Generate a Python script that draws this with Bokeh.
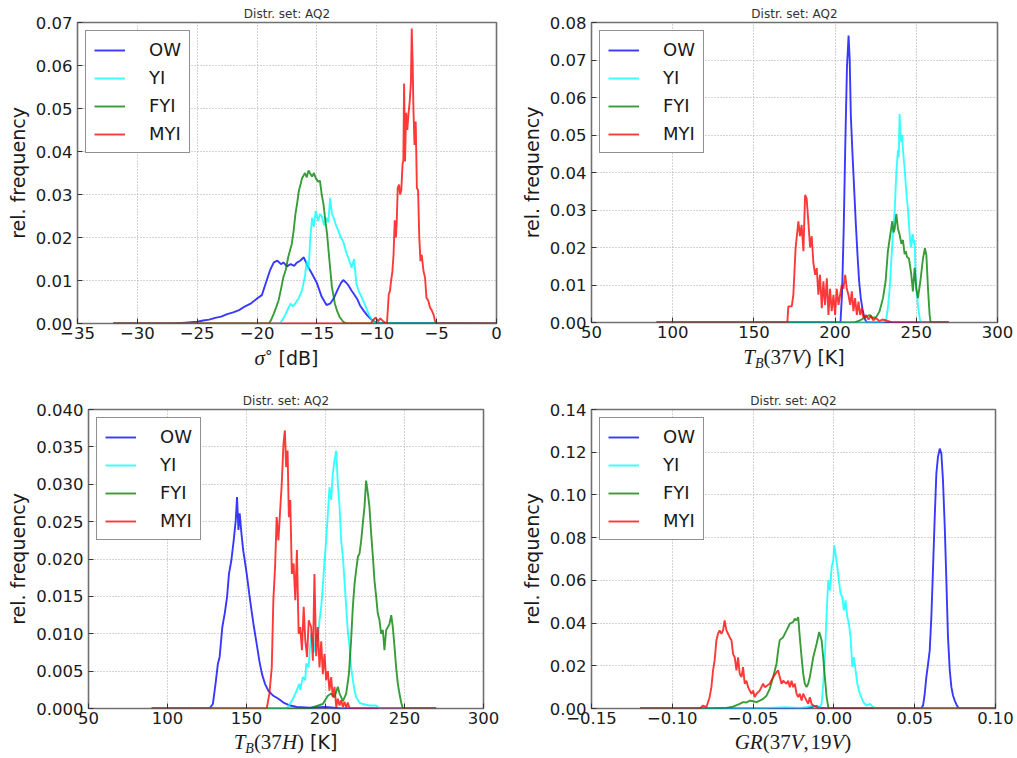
from bokeh.plotting import figure
from bokeh.models import Range1d, FixedTicker, CustomJSTickFormatter, Div
from bokeh.layouts import column, row
from bokeh.embed import file_html
from bokeh.resources import INLINE

CLASSES = ["OW", "YI", "FYI", "MYI"]
COLORS = ["#0000ff", "#00ffff", "#008000", "#ff0000"]
TITLE = "Distr. set: AQ2"
YLABEL = "rel. frequency"

# ---------------- panel 1: sigma0 [dB] ----------------
S0_OW = [(-32, 0), (-27, 0), (-26, 0.0002), (-25, 0.0004), (-24.5, 0.0007), (-24, 0.0009), (-23.5, 0.0013),
         (-23, 0.0016), (-22.5, 0.0022), (-22, 0.0026), (-21.5, 0.0031), (-21, 0.0040), (-20.5, 0.0047),
         (-20, 0.0058), (-19.6, 0.0066), (-19.2, 0.0100), (-18.9, 0.0125), (-18.6, 0.0142), (-18.3, 0.0146),
         (-18.0, 0.0138), (-17.8, 0.0142), (-17.5, 0.0133), (-17.2, 0.0138), (-16.9, 0.0134), (-16.7, 0.0141),
         (-16.4, 0.0146), (-16.1, 0.0154), (-15.8, 0.0135), (-15.4, 0.0115), (-15.0, 0.0094), (-14.6, 0.0062),
         (-14.2, 0.0043), (-13.9, 0.0046), (-13.6, 0.0058), (-13.3, 0.0077), (-13.0, 0.0094), (-12.8, 0.0101),
         (-12.6, 0.0096), (-12.4, 0.0090), (-12.1, 0.0076), (-11.9, 0.0068), (-11.6, 0.0055), (-11.4, 0.0042),
         (-11.1, 0.0030), (-10.8, 0.0019), (-10.4, 0.0008), (-10.0, 0.0001), (0, 0)]
S0_YI = [(-32, 0), (-18.1, 0), (-17.8, 0.0012), (-17.6, 0.0023), (-17.4, 0.0035), (-17.2, 0.0046), (-17.0, 0.0040),
         (-16.8, 0.0047), (-16.5, 0.0060), (-16.25, 0.0077), (-16.0, 0.0110), (-15.85, 0.0146), (-15.7, 0.0125),
         (-15.55, 0.0200), (-15.4, 0.0246), (-15.25, 0.0225), (-15.1, 0.0262), (-14.9, 0.0238), (-14.75, 0.0255),
         (-14.6, 0.0250), (-14.4, 0.0228), (-14.2, 0.0246), (-14.05, 0.0235), (-13.9, 0.0292), (-13.75, 0.0255),
         (-13.6, 0.0246), (-13.4, 0.0228), (-13.2, 0.0215), (-13.0, 0.0200), (-12.8, 0.0190), (-12.6, 0.0170),
         (-12.4, 0.0154), (-12.1, 0.0130), (-11.9, 0.0150), (-11.7, 0.0092), (-11.5, 0.0075), (-11.25, 0.0060),
         (-11.0, 0.0045), (-10.8, 0.0030), (-10.6, 0.0018), (-10.4, 0.0008), (-10.1, 0), (0, 0)]
S0_FYI = [(-32, 0), (-19.0, 0), (-18.8, 0.0010), (-18.6, 0.0023), (-18.4, 0.0038), (-18.2, 0.0054), (-18.0, 0.0080),
          (-17.8, 0.0108), (-17.6, 0.0125), (-17.4, 0.0154), (-17.25, 0.0170), (-17.1, 0.0185), (-16.95, 0.0215),
          (-16.8, 0.0254), (-16.65, 0.0280), (-16.5, 0.0310), (-16.35, 0.0325), (-16.25, 0.0338), (-16.1, 0.0345),
          (-16.0, 0.0350), (-15.85, 0.0340), (-15.7, 0.0356), (-15.55, 0.0348), (-15.4, 0.0342), (-15.25, 0.0350),
          (-15.1, 0.0338), (-14.9, 0.0330), (-14.75, 0.0332), (-14.6, 0.0300), (-14.45, 0.0277), (-14.3, 0.0240),
          (-14.15, 0.0208), (-14.0, 0.0160), (-13.75, 0.0085), (-13.5, 0.0046), (-13.3, 0.0028), (-13.1, 0.0015),
          (-12.8, 0.0004), (-12.5, 0), (0, 0)]
S0_MYI = [(-32, 0), (-10.5, 0), (-10.3, 0.0008), (-10.1, 0.0014), (-9.9, 0.0005), (-9.7, 0.0012), (-9.5, 0.0006),
          (-9.3, 0.0002), (-9.15, 0), (-9.0, 0.0068), (-8.9, 0.0076), (-8.8, 0.0100), (-8.7, 0.0120), (-8.6, 0.0160),
          (-8.5, 0.0240), (-8.4, 0.0200), (-8.33, 0.0240), (-8.25, 0.0315), (-8.14, 0.0323), (-8.05, 0.0300),
          (-7.95, 0.0310), (-7.85, 0.0370), (-7.78, 0.0380), (-7.72, 0.0558), (-7.64, 0.0377), (-7.55, 0.0490),
          (-7.45, 0.0450), (-7.36, 0.0485), (-7.25, 0.0516), (-7.15, 0.0560), (-7.08, 0.0686), (-7.0, 0.0600),
          (-6.94, 0.0500), (-6.85, 0.0415), (-6.75, 0.0470), (-6.65, 0.0315), (-6.55, 0.0310), (-6.45, 0.0200),
          (-6.35, 0.0145), (-6.25, 0.0160), (-6.1, 0.0122), (-5.97, 0.0107), (-5.85, 0.0060), (-5.7, 0.0053),
          (-5.55, 0.0037), (-5.4, 0.0030), (-5.25, 0.0020), (-5.14, 0.0006), (-5.0, 0), (0, 0)]

# ---------------- panel 2: TB(37V) [K] ----------------
V37_OW = [(90, 0), (203.3, 0), (204.3, 0.008), (205.3, 0.025), (206.3, 0.048), (207.3, 0.068), (208.3, 0.0765),
          (209.0, 0.070), (209.7, 0.055), (210.7, 0.045), (211.7, 0.036), (212.8, 0.026), (213.8, 0.018),
          (214.8, 0.011), (215.8, 0.0065), (216.9, 0.0035), (217.9, 0.0015), (219, 0.0003), (220, 0), (270, 0)]
V37_YI = [(90, 0), (229.5, 0), (231.5, 0.001), (232.5, 0.0038), (233.6, 0.009), (234.6, 0.0165), (235.6, 0.0235),
          (236.7, 0.030), (237.7, 0.040), (238.7, 0.046), (239.2, 0.044), (239.7, 0.0556), (240.3, 0.050),
          (240.8, 0.048), (241.3, 0.050), (241.8, 0.046), (242.8, 0.041), (243.8, 0.035), (244.9, 0.030),
          (245.9, 0.0235), (246.4, 0.021), (246.9, 0.020), (247.4, 0.023), (247.9, 0.0235), (248.5, 0.021),
          (249, 0.022), (249.5, 0.013), (250, 0.009), (251, 0.0047), (252.1, 0.001), (253, 0), (270, 0)]
V37_FYI = [(90, 0), (212, 0), (215, 0.0005), (217.1, 0.001), (219, 0.0015), (221.3, 0.002), (223, 0.0012),
           (225.4, 0.0015), (227.4, 0.003), (229.5, 0.0065), (231.1, 0.011), (232.5, 0.019), (234, 0.0235),
           (235.2, 0.027), (236, 0.024), (236.7, 0.025), (237.7, 0.029), (238.7, 0.025), (239.7, 0.0235),
           (240.8, 0.021), (241.8, 0.022), (242.8, 0.0182), (243.5, 0.019), (244.3, 0.0175), (245.5, 0.017),
           (246.2, 0.015), (246.9, 0.0128), (247.9, 0.0083), (249, 0.0146), (250, 0.009), (251, 0.0065),
           (252.5, 0.011), (254.1, 0.017), (255.3, 0.0198), (256.2, 0.018), (257.2, 0.009), (258.2, 0.002),
           (258.8, 0), (270, 0)]
V37_MYI = [(90, 0), (170.6, 0), (171.2, 0.0043), (173.3, 0.0043), (174.3, 0.0074), (175.7, 0.020), (177.4, 0.027),
           (178.4, 0.023), (179.4, 0.026), (180.5, 0.019), (181.5, 0.034), (182.5, 0.033), (183.5, 0.027),
           (184.6, 0.020), (185.6, 0.023), (186.6, 0.016), (187.7, 0.0127), (188.7, 0.0145), (189.7, 0.0074),
           (190.7, 0.0127), (191.8, 0.0038), (192.8, 0.011), (193.8, 0.0047), (194.9, 0.0118), (195.9, 0.002),
           (196.9, 0.009), (197.9, 0.003), (199.0, 0.0074), (200.0, 0.002), (201.0, 0.009), (202.1, 0.0047),
           (203.1, 0.0074), (204.1, 0.010), (205.1, 0.009), (206.2, 0.0127), (207.2, 0.009), (208.2, 0.0074),
           (209.3, 0.0047), (210.3, 0.0083), (211.3, 0.003), (212.3, 0.0065), (213.4, 0.002), (214.4, 0.0056),
           (215.4, 0.002), (216.5, 0.0038), (217.5, 0.0012), (218.9, 0.002), (220.6, 0.0008), (222, 0.0018),
           (223.5, 0.0006), (225.1, 0.0012), (227.2, 0.0004), (229.2, 0.0008), (232, 0.0005), (235, 0), (270, 0)]

# ---------------- panel 3: TB(37H) [K] ----------------
H37_OW = [(90, 0), (126.6, 0), (128.7, 0.0006), (130.4, 0.0033), (131.9, 0.0060), (133, 0.0069), (134.7, 0.0109),
          (136.2, 0.0127), (137.7, 0.0149), (138.9, 0.0180), (140.4, 0.0198), (141.9, 0.0225), (143.2, 0.0252),
          (144, 0.0283), (144.9, 0.0239), (145.7, 0.0261), (146.8, 0.0234), (147.9, 0.0212), (148.9, 0.0198),
          (150.4, 0.0176), (151.7, 0.0154), (153.2, 0.0131), (154.7, 0.0109), (156.4, 0.0087), (158.1, 0.0064),
          (159.8, 0.0046), (161.7, 0.0033), (163.8, 0.0024), (167, 0.0017), (170.2, 0.0013), (173.4, 0.0008),
          (177.7, 0.0004), (181.9, 0.0002), (190, 0.0001), (200, 0.0002), (205, 0.0001), (210, 0), (270, 0)]
H37_YI = [(90, 0), (175.5, 0), (178.7, 0.001), (180.9, 0.002), (183.5, 0.0033), (184, 0.0025), (185.7, 0.0042),
          (187.2, 0.0038), (187.8, 0.006), (189.4, 0.0055), (189.9, 0.0073), (190.9, 0.010), (192, 0.0091),
          (193, 0.0075), (194.1, 0.010), (195.1, 0.009), (196.2, 0.0118), (197.3, 0.0136), (198.3, 0.0163),
          (199.4, 0.0198), (200.4, 0.0225), (201.5, 0.026), (202.5, 0.0296), (203.6, 0.0279), (204.6, 0.0314),
          (205.7, 0.0332), (206.8, 0.0345), (207.8, 0.030), (208.9, 0.027), (209.9, 0.0225), (211, 0.0203),
          (212, 0.0171), (213.1, 0.0136), (214.1, 0.0104), (215.2, 0.0082), (216.2, 0.0055), (217.3, 0.0038),
          (218.4, 0.0024), (219.4, 0.0015), (221.5, 0.0008), (223.6, 0.0006), (227.8, 0.0004), (232, 0.0004),
          (234.2, 0), (270, 0)]
H37_FYI = [(90, 0), (189.9, 0), (198.3, 0.0006), (201.5, 0.0017), (203.6, 0.002), (205.7, 0.0015), (207.8, 0.0029),
           (208.9, 0.002), (211, 0.001), (213.1, 0.002), (214.8, 0.0046), (216.2, 0.0091), (217.3, 0.0136),
           (218.4, 0.0167), (219.4, 0.0185), (220.5, 0.0203), (221.5, 0.0207), (222.6, 0.0225), (223.6, 0.0247),
           (224.7, 0.027), (225.7, 0.0305), (226.8, 0.0288), (227.8, 0.027), (228.9, 0.0234), (230, 0.0203),
           (231, 0.0171), (232.1, 0.0149), (233.1, 0.0127), (234.2, 0.0118), (235.2, 0.010), (236.3, 0.0105),
           (237.3, 0.0078), (238.4, 0.0105), (239.5, 0.0109), (240.5, 0.0113), (241.6, 0.0125), (242.6, 0.0109),
           (243.7, 0.0082), (244.7, 0.0055), (245.8, 0.0033), (246.8, 0.002), (247.9, 0.0008), (248.9, 0), (270, 0)]
H37_MYI = [(90, 0), (162.8, 0), (164.5, 0.002), (166, 0.0055), (167, 0.0145), (168.1, 0.019), (169.1, 0.0256),
           (170.2, 0.0225), (171.3, 0.0265), (172.3, 0.030), (173.4, 0.0354), (174.3, 0.0372), (175.1, 0.0323),
           (176, 0.0345), (176.8, 0.0256), (177.7, 0.0279), (178.7, 0.018), (179.8, 0.0194), (180.9, 0.0145),
           (181.9, 0.0212), (183, 0.010), (184, 0.0109), (185.1, 0.0078), (186.2, 0.0136), (187.2, 0.0091),
           (188.3, 0.0069), (189.4, 0.0118), (190.9, 0.0109), (192, 0.0064), (193, 0.018), (194.1, 0.007),
           (195.1, 0.0109), (196.2, 0.0055), (197.3, 0.009), (198.3, 0.0046), (199.4, 0.0073), (200.4, 0.0038),
           (201.5, 0.005), (202.5, 0.0024), (203.6, 0.0042), (204.6, 0.0015), (205.7, 0.0029), (206.8, 0.0002),
           (207.8, 0.0013), (208.9, 0.0004), (209.9, 0.0011), (211, 0.0002), (212, 0.0009), (213.1, 0.0001),
           (214.1, 0.0008), (215.2, 0), (270, 0)]

# ---------------- panel 4: GR(37V,19V) ----------------
GR_OW = [(-0.12, 0), (-0.02, 0), (-0.015, 0.0004), (-0.011, 0.0012), (-0.008, 0.0003), (-0.005, 0), (0.0541, 0),
         (0.0552, 0.0015), (0.0562, 0.0069), (0.0572, 0.0147), (0.0583, 0.021), (0.0593, 0.0272), (0.0603, 0.0428),
         (0.0613, 0.0647), (0.0624, 0.0897), (0.0634, 0.110), (0.0644, 0.1178), (0.0655, 0.1217), (0.0665, 0.1194),
         (0.0675, 0.1069), (0.0686, 0.085), (0.0696, 0.060), (0.0706, 0.0334), (0.0717, 0.0178), (0.0727, 0.010),
         (0.0737, 0.0061), (0.0748, 0.0037), (0.0758, 0.0019), (0.0768, 0.0006), (0.0779, 0), (0.10, 0)]
GR_YI = [(-0.12, 0), (-0.05, 0), (-0.04, 0.0003), (-0.03, 0.0006), (-0.021, 0.0003), (-0.017, 0.0006),
         (-0.0128, 0.0014), (-0.0107, 0.0009), (-0.0087, 0.0006), (-0.0076, 0.0022), (-0.0066, 0.0116),
         (-0.0056, 0.024), (-0.0045, 0.0444), (-0.0035, 0.060), (-0.0024, 0.0553), (-0.0014, 0.0663),
         (-0.0004, 0.0694), (0.0002, 0.0764), (0.001, 0.0725), (0.0021, 0.0663), (0.0031, 0.060), (0.0041, 0.0538),
         (0.0052, 0.0522), (0.0062, 0.0459), (0.0072, 0.0506), (0.0083, 0.0428), (0.0093, 0.0397), (0.0103, 0.0334),
         (0.0114, 0.0194), (0.0124, 0.024), (0.0134, 0.0178), (0.0145, 0.0116), (0.0161, 0.0069), (0.0182, 0.003),
         (0.0202, 0.0014), (0.0223, 0.0022), (0.0244, 0.0006), (0.0264, 0), (0.10, 0)]
GR_FYI = [(-0.12, 0), (-0.0748, 0), (-0.0665, 0.0003), (-0.0624, 0.0009), (-0.0583, 0.0022), (-0.0562, 0.003),
          (-0.0541, 0.0028), (-0.0521, 0.0037), (-0.05, 0.0034), (-0.0479, 0.003), (-0.0459, 0.0037),
          (-0.0438, 0.0045), (-0.0417, 0.006), (-0.0397, 0.0092), (-0.0376, 0.0147), (-0.0355, 0.021),
          (-0.0345, 0.0272), (-0.0335, 0.032), (-0.0314, 0.0334), (-0.0293, 0.0366), (-0.0273, 0.0397),
          (-0.0252, 0.0405), (-0.0242, 0.042), (-0.0231, 0.0413), (-0.0221, 0.0428), (-0.0211, 0.0334),
          (-0.020, 0.024), (-0.019, 0.0163), (-0.018, 0.0116), (-0.0169, 0.010), (-0.0159, 0.0116),
          (-0.0149, 0.0147), (-0.0138, 0.0194), (-0.0128, 0.024), (-0.0107, 0.0303), (-0.0091, 0.0358),
          (-0.0076, 0.032), (-0.0066, 0.024), (-0.0056, 0.0147), (-0.0045, 0.0053), (-0.0035, 0.0006),
          (-0.0024, 0), (0.10, 0)]
GR_MYI = [(-0.12, 0), (-0.083, 0), (-0.081, 0.0014), (-0.0789, 0.0006), (-0.0769, 0.0053), (-0.0758, 0.010),
          (-0.0748, 0.0178), (-0.0738, 0.0225), (-0.0727, 0.032), (-0.0717, 0.035), (-0.0707, 0.0366),
          (-0.0696, 0.035), (-0.0686, 0.0366), (-0.0676, 0.0413), (-0.0665, 0.0366), (-0.0655, 0.035),
          (-0.0645, 0.0334), (-0.0634, 0.032), (-0.0624, 0.0256), (-0.0614, 0.024), (-0.0603, 0.0178),
          (-0.0593, 0.024), (-0.0583, 0.0163), (-0.0572, 0.0147), (-0.0562, 0.0194), (-0.0552, 0.0116),
          (-0.0541, 0.013), (-0.0531, 0.010), (-0.0521, 0.0084), (-0.051, 0.0069), (-0.05, 0.0084),
          (-0.049, 0.0053), (-0.0479, 0.0069), (-0.0459, 0.0084), (-0.0438, 0.0116), (-0.0428, 0.010),
          (-0.0417, 0.0105), (-0.0397, 0.0116), (-0.0376, 0.0147), (-0.0355, 0.017), (-0.0345, 0.0178),
          (-0.0335, 0.0147), (-0.0324, 0.0116), (-0.0314, 0.013), (-0.0293, 0.0116), (-0.0283, 0.013),
          (-0.0273, 0.010), (-0.0262, 0.013), (-0.0252, 0.010), (-0.0242, 0.0116), (-0.0231, 0.0069),
          (-0.0221, 0.0053), (-0.0211, 0.0069), (-0.020, 0.0037), (-0.019, 0.0069), (-0.018, 0.0053),
          (-0.0169, 0.0037), (-0.0159, 0.0022), (-0.0149, 0.0053), (-0.0138, 0.0022), (-0.0128, 0.0014),
          (-0.0107, 0.0006), (-0.0087, 0), (0.10, 0)]

# axis ticks
S0_XTICKS = [-35, -30, -25, -20, -15, -10, -5, 0]
S0_YTICKS = [0, 0.01, 0.02, 0.03, 0.04, 0.05, 0.06, 0.07]
TB_XTICKS = [50, 100, 150, 200, 250, 300]
V37_YTICKS = [0, 0.01, 0.02, 0.03, 0.04, 0.05, 0.06, 0.07, 0.08]
H37_YTICKS = [0, 0.005, 0.01, 0.015, 0.02, 0.025, 0.03, 0.035, 0.04]
GR_XTICKS = [-0.15, -0.10, -0.05, 0.0, 0.05, 0.10]
GR_YTICKS = [0, 0.02, 0.04, 0.06, 0.08, 0.10, 0.12, 0.14]

# x-axis labels (HTML, so that the subscript is real text)
MATH = "font-family:'Liberation Serif';font-size:21px"
IT = "font-style:italic"
SUB = "font-family:'Liberation Serif';font-style:italic;font-size:14px;vertical-align:-4px;line-height:0"
XLABEL_S0 = (f"<span style=\"{MATH};{IT}\">σ</span>"
             f"<span style=\"font-size:15px;vertical-align:3px\">°</span> [dB]")
XLABEL_V37 = (f"<span style=\"{MATH}\"><i>T</i><span style=\"{SUB}\">B</span>(37<i>V</i>)</span> [K]")
XLABEL_H37 = (f"<span style=\"{MATH}\"><i>T</i><span style=\"{SUB}\">B</span>(37<i>H</i>)</span> [K]")
XLABEL_GR = f"<span style=\"{MATH}\"><i>GR</i>(37<i>V</i>,&#8202;19<i>V</i>)</span>"

TXT = "#1a1a1a"
SANS = "DejaVu Sans"


def fmt(dec):
    return CustomJSTickFormatter(code="return tick.toFixed(%d).replace('-', '\\u2212');" % dec)


def panel(series, xr, yr, xt, yt, xdec, ydec, fw, fh, bl, br, bt, bb):
    p = figure(output_backend="svg", toolbar_location=None, frame_width=fw, frame_height=fh,
               min_border_left=bl, min_border_right=br, min_border_top=bt, min_border_bottom=bb,
               x_range=Range1d(*xr), y_range=Range1d(*yr), title=TITLE)
    for name, color, pairs in zip(CLASSES, COLORS, series):
        xs = [a for a, b in pairs]
        ys = [b for a, b in pairs]
        p.line(xs, ys, line_color=color, line_width=1.9, line_alpha=0.78, legend_label=name)
    p.title.align = "center"
    p.title.text_font = SANS
    p.title.text_font_size = "12px"
    p.title.text_font_style = "normal"
    p.title.text_color = "#333333"
    p.title.standoff = 4
    p.xaxis.ticker = FixedTicker(ticks=xt)
    p.yaxis.ticker = FixedTicker(ticks=yt)
    p.xaxis.formatter = fmt(xdec)
    p.yaxis.formatter = fmt(ydec)
    for ax in (p.xaxis[0], p.yaxis[0]):
        ax.axis_line_color = None
        ax.major_tick_in = 5
        ax.major_tick_out = 0
        ax.major_tick_line_color = "#333333"
        ax.minor_tick_line_color = None
        ax.major_label_text_font = SANS
        ax.major_label_text_font_size = "16.5px"
        ax.major_label_text_color = TXT
    p.xaxis.major_label_standoff = 3
    p.yaxis.major_label_standoff = 5
    p.yaxis.axis_label = YLABEL
    p.yaxis.axis_label_text_font = SANS
    p.yaxis.axis_label_text_font_size = "19px"
    p.yaxis.axis_label_text_font_style = "normal"
    p.yaxis.axis_label_text_color = TXT
    p.yaxis.axis_label_standoff = 4
    p.grid.grid_line_color = "#a8a8a8"
    p.grid.grid_line_dash = "1 2"
    p.grid.grid_line_width = 1
    p.outline_line_color = "#707070"
    p.outline_line_width = 1.6
    lg = p.legend[0]
    lg.location = "top_left"
    lg.margin = 8
    lg.padding = 8
    lg.spacing = 7
    lg.glyph_width = 31
    lg.glyph_height = 20
    lg.label_height = 20
    lg.label_standoff = 24
    lg.label_text_font = SANS
    lg.label_text_font_size = "18px"
    lg.label_text_color = TXT
    lg.border_line_color = "#222222"
    lg.border_line_width = 1.2
    lg.background_fill_alpha = 1.0
    return p


def xlabel_div(html, left, fw, width, height):
    inner = (f"<div style=\"margin-left:{left}px;width:{fw}px;text-align:center;white-space:nowrap;"
             f"font-family:'{SANS}';font-size:19px;line-height:20px;color:{TXT}\">{html}</div>")
    return Div(text=inner, width=width, height=height, margin=0)


p1 = panel([S0_OW, S0_YI, S0_FYI, S0_MYI], (-35, 0), (0, 0.07), S0_XTICKS, S0_YTICKS, 0, 2,
           419, 301, 77, 12, 22, 24)
p2 = panel([V37_OW, V37_YI, V37_FYI, V37_MYI], (50, 300), (0, 0.08), TB_XTICKS, V37_YTICKS, 0, 2,
           406, 300, 83, 18, 22, 25)
p3 = panel([H37_OW, H37_YI, H37_FYI, H37_MYI], (50, 300), (0, 0.04), TB_XTICKS, H37_YTICKS, 0, 3,
           395, 299, 88, 25, 30, 24)
p4 = panel([GR_OW, GR_YI, GR_FYI, GR_MYI], (-0.15, 0.10), (0, 0.14), GR_XTICKS, GR_YTICKS, 2, 2,
           404, 299, 83, 20, 30, 24)

d1 = xlabel_div(XLABEL_S0, 77, 419, 508, 32)
d2 = xlabel_div(XLABEL_V37, 83, 406, 507, 32)
d3 = xlabel_div(XLABEL_H37, 88, 395, 508, 24)
d4 = xlabel_div(XLABEL_GR, 83, 404, 507, 24)

layout = column(row(p1, p2), row(d1, d2), row(p3, p4), row(d3, d4))
open("out.html", "w").write(file_html(layout, INLINE))
